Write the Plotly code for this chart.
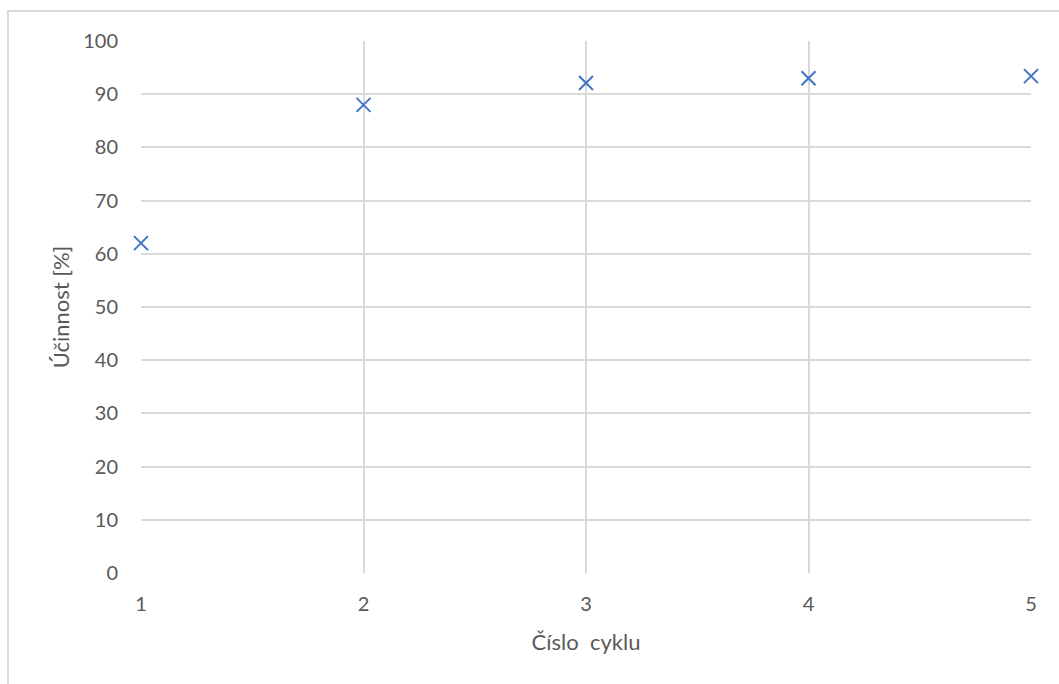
import plotly.graph_objects as go

cycles = [1, 2, 3, 4, 5]
efficiency = [62.0, 88.0, 92.1, 93.0, 93.4]
x_ticks = [1, 2, 3, 4, 5]
y_ticks = [0, 10, 20, 30, 40, 50, 60, 70, 80, 90, 100]

W, H = 1059, 684
L, R, T, B = 141, 28, 41, 111
pw, ph = W - L - R, H - T - B

fig = go.Figure()
fig.add_trace(go.Scatter(
    x=cycles, y=efficiency, mode="markers", cliponaxis=False,
    marker=dict(symbol="x-thin", size=14, line=dict(color="#4472C4", width=2), color="#4472C4"),
    showlegend=False,
))

font = "Lato, 'Open Sans', sans-serif"
fig.update_layout(
    width=W, height=H,
    margin=dict(l=L, r=R, t=T, b=B),
    paper_bgcolor="white", plot_bgcolor="white",
    font=dict(family=font, color="#595959", size=20),
    xaxis=dict(
        range=[1, 5], tickvals=x_ticks, ticktext=[str(v) for v in x_ticks],
        showgrid=True, gridcolor="#d9d9d9", gridwidth=2,
        showline=False, zeroline=False, ticks="",
        ticklabelstandoff=17,
        title=dict(text="Číslo\u00a0 cyklu", font=dict(size=22, color="#595959"), standoff=20),
    ),
    yaxis=dict(
        range=[0, 100], tickvals=y_ticks,
        showgrid=True, gridcolor="#d9d9d9", gridwidth=2,
        showline=False, zeroline=False, ticks="",
        ticklabelstandoff=22,
        title=dict(text="Účinnost [%]", font=dict(size=22, color="#595959"), standoff=7),
    ),
)

# outer chart border (left and top edges visible)
fig.add_shape(type="rect", xref="paper", yref="paper",
              x0=(8 - L) / pw, x1=(W + 20 - L) / pw,
              y0=(T + ph - (H + 20)) / ph, y1=(T + ph - 11) / ph,
              line=dict(color="#d9d9d9", width=2), layer="below")

fig.write_html("out.html", config={"displayModeBar": False},
               post_script="document.body.style.margin='0';document.body.style.overflow='hidden';")
